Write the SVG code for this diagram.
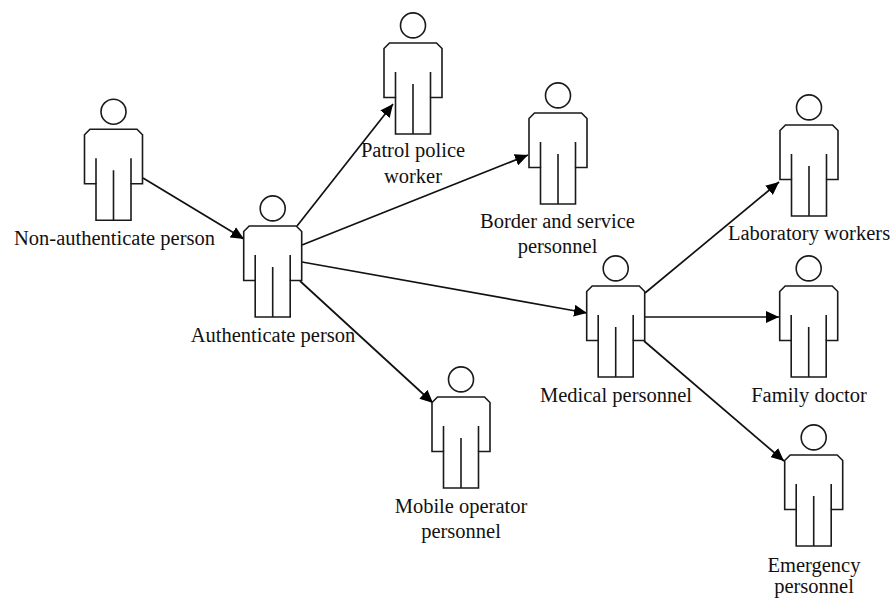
<svg xmlns="http://www.w3.org/2000/svg" xmlns:xlink="http://www.w3.org/1999/xlink" width="890" height="598" viewBox="0 0 890 598">
<style>
.p{fill:#fff;stroke:#1a1a1a;stroke-width:1.6}
.c{fill:none;stroke:#111;stroke-width:1.7;marker-end:url(#a)}
text{font-family:"Liberation Serif","Times New Roman",serif;font-size:20.500px;fill:#111;text-anchor:middle}
</style>
<defs>
<marker id="a" markerUnits="userSpaceOnUse" markerWidth="14" markerHeight="12" refX="13" refY="6" orient="auto"><path d="M0 0L13 6L0 12Z" fill="#000"/></marker>
<g id="person">
<circle class="p" cx="0" cy="-17.6" r="12.5"/>
<path class="p" d="M-23.5 0H23.5L29 5.500V54.500H17.500V91H-17.500V54.500H-29V5.500Z"/>
<path class="p" d="M-17.500 29V54.500M17.500 29V54.500M0 41V91"/>
</g>
</defs>
<rect width="890" height="598" fill="#fff"/>
<g id="connectors">
<path class="c" d="M143 178L244 239"/>
<path class="c" d="M297 226L393 104"/>
<path class="c" d="M302 245L528 155"/>
<path class="c" d="M302 262L587 313"/>
<path class="c" d="M300 281L433 403"/>
<path class="c" d="M645 293L779 182"/>
<path class="c" d="M645 317L779 317"/>
<path class="c" d="M644 341L784 461"/>
</g>
<g id="non-authenticate"><use xlink:href="#person" href="#person" x="113.500" y="129.300"/><text x="114.500" y="245">Non-authenticate person</text></g>
<g id="authenticate"><use xlink:href="#person" href="#person" x="272.700" y="226"/><text x="273" y="342">Authenticate person</text></g>
<g id="patrol"><use xlink:href="#person" href="#person" x="413" y="43"/><text x="413" y="157">Patrol police</text><text x="413" y="183">worker</text></g>
<g id="border"><use xlink:href="#person" href="#person" x="558" y="113"/><text x="557.500" y="228">Border and service</text><text x="557.500" y="253">personnel</text></g>
<g id="laboratory"><use xlink:href="#person" href="#person" x="809" y="125"/><text x="809" y="240">Laboratory workers</text></g>
<g id="medical"><use xlink:href="#person" href="#person" x="615.700" y="286"/><text x="616" y="402">Medical personnel</text></g>
<g id="family"><use xlink:href="#person" href="#person" x="808.700" y="286"/><text x="809" y="402">Family doctor</text></g>
<g id="mobile"><use xlink:href="#person" href="#person" x="461" y="397"/><text x="461" y="513">Mobile operator</text><text x="461" y="538">personnel</text></g>
<g id="emergency"><use xlink:href="#person" href="#person" x="813.700" y="455"/><text x="814" y="572">Emergency</text><text x="814" y="593">personnel</text></g>
</svg>
